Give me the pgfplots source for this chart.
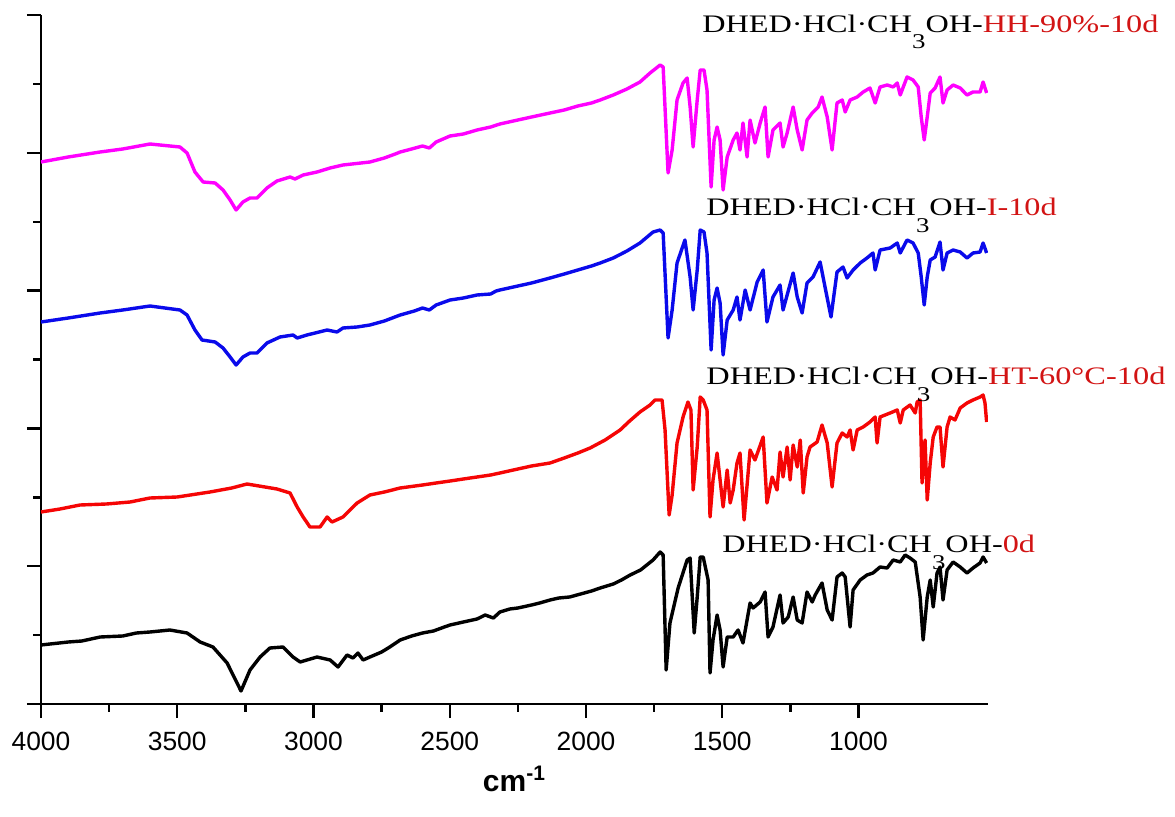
\documentclass[border=0pt]{standalone}
\usepackage{pgfplots}
\pgfplotsset{compat=1.18}
\usepackage{graphicx}
\usepackage{fontspec}
\setmainfont{Liberation Sans}
\newfontfamily\tnr{Liberation Serif}
\definecolor{cmag}{RGB}{255,0,255}
\definecolor{cblue}{RGB}{10,10,235}
\definecolor{cred}{RGB}{245,5,5}
\definecolor{labred}{RGB}{210,20,20}
\newcommand{\sub}{\raisebox{-8.5pt}{\fontsize{10.5}{12}\selectfont 3}}
\begin{document}
\begin{tikzpicture}
\useasboundingbox (-20.5pt,-56pt) rectangle (567pt,352pt);
\begin{axis}[
  at={(0pt,0pt)}, anchor=south west,
  scale only axis, width=473.5pt, height=344.5pt,
  xmin=525, xmax=4000, x dir=reverse,
  ymin=0, ymax=689,
  axis x line*=bottom, axis y line*=left,
  axis line style={line width=1.2pt, black},
  xtick={1000,1500,2000,2500,3000,3500,4000},
  minor x tick num=1,
  ytick={0,137.8,275.6,413.4,551.2,689},
  yticklabels={},
  minor y tick num=1,
  tick align=outside,
  major tick length=7pt, minor tick length=3.75pt,
  tick style={line width=1.2pt, black},
  /pgf/number format/assume math mode=true,
  /pgf/number format/set thousands separator={},
  xticklabel style={font=\fontsize{13.2}{15}\selectfont},
  xticklabel shift=3.5pt,
  line join=round,
]
% 0d (black)
\addplot[black, line width=1.7pt] table {
x y
4000 59
3900 62
3850 63
3783 67
3700 68
3650 71
3600 72
3527 74
3464 71
3416 62
3369 57
3317 41
3266 13
3233 34
3196 47
3160 56
3112 57
3075 47
3049 42
2987 47
2939 44
2910 37
2877 49
2855 46
2837 51
2818 44
2793 47
2750 52
2720 57
2682 64
2640 68
2600 71
2560 73
2520 77
2499 79
2450 82
2400 85
2370 89
2340 86
2316 92
2280 95
2250 96
2200 99
2170 101
2132 104
2100 106
2060 107
2020 110
1980 113
1948 116
1900 120
1870 124
1838 129
1800 134
1754 144
1728 152
1717 149
1706 34
1692 81
1662 116
1629 144
1618 146
1603 71
1592 107
1581 147
1570 147
1552 124
1545 31
1534 64
1519 89
1508 74
1497 37
1482 67
1460 67
1442 74
1424 61
1398 101
1387 96
1361 102
1343 112
1332 67
1314 77
1288 109
1277 81
1258 87
1240 107
1225 84
1207 81
1189 112
1170 102
1159 109
1134 121
1115 94
1097 84
1079 127
1060 131
1049 127
1031 77
1020 114
994 124
969 129
947 131
921 137
895 136
873 144
847 142
829 149
811 146
792 142
774 107
763 64
748 107
737 124
726 97
712 131
701 137
690 104
675 134
653 142
627 137
602 131
580 136
554 141
543 147
530 141
};
% HT-60C-10d (red)
\addplot[cred, line width=1.7pt] table {
x y
4000 192
3930 195
3857 199
3760 200
3673 202
3600 206
3500 207
3380 212
3300 216
3244 220
3134 215
3086 211
3060 197
3038 187
3013 177
2976 177
2950 187
2932 182
2892 187
2840 201
2793 209
2740 212
2682 216
2600 219
2550 221
2499 223
2450 225
2400 227
2350 229
2316 231
2250 235
2200 238
2132 241
2080 246
2030 251
1985 256
1930 264
1875 274
1840 283
1802 292
1765 299
1747 304
1721 304
1710 274
1695 189
1684 209
1666 261
1644 287
1626 302
1615 294
1607 214
1592 257
1581 307
1570 304
1556 294
1545 187
1534 224
1519 251
1508 224
1497 197
1482 234
1471 201
1460 214
1446 241
1435 251
1420 184
1398 254
1380 244
1350 267
1336 201
1317 227
1299 214
1288 252
1277 227
1262 257
1251 224
1240 259
1225 237
1214 264
1203 211
1189 247
1178 257
1152 262
1134 279
1115 261
1097 217
1079 261
1060 271
1042 267
1031 274
1020 254
1005 274
983 277
958 282
939 287
932 261
921 287
884 291
858 294
847 281
836 294
811 299
792 291
785 302
774 304
767 221
756 264
748 204
737 241
726 267
712 277
701 277
690 237
675 277
664 287
646 284
627 296
602 301
580 304
554 307
543 309
536 301
530 282
};
% I-10d (blue)
\addplot[cblue, line width=1.7pt] table {
x y
4000 382
3900 386
3783 391
3700 394
3600 398
3490 394
3464 389
3435 374
3409 364
3361 362
3332 356
3306 347
3284 339
3259 347
3233 351
3207 351
3171 361
3123 367
3075 369
3060 366
3024 369
2950 374
2914 372
2892 376
2840 377
2793 379
2740 383
2682 389
2630 393
2600 396
2575 394
2550 399
2499 404
2450 406
2400 409
2350 410
2330 413
2316 414
2250 418
2200 421
2132 426
2080 430
2030 434
1980 438
1948 441
1900 446
1850 453
1802 461
1754 472
1728 474
1717 471
1699 366
1684 394
1666 441
1637 464
1618 427
1607 394
1592 434
1581 474
1567 472
1556 451
1541 354
1530 404
1519 416
1508 401
1497 349
1482 384
1460 394
1446 407
1435 384
1416 414
1398 394
1372 422
1350 434
1336 382
1314 407
1288 419
1277 394
1240 431
1225 407
1207 391
1189 421
1167 427
1141 442
1123 417
1101 387
1079 432
1057 437
1042 426
1020 434
994 441
969 446
947 451
939 434
921 454
884 456
858 461
847 451
822 464
800 461
781 451
770 427
759 399
748 427
737 444
719 447
701 462
690 434
675 451
653 454
627 452
602 446
580 451
554 452
543 461
530 451
};
% HH-90%-10d (magenta)
\addplot[cmag, line width=1.7pt] table {
x y
4000 542
3900 547
3783 552
3700 555
3600 560
3490 557
3464 551
3435 532
3405 522
3361 521
3332 514
3306 504
3284 494
3259 502
3233 506
3207 506
3171 516
3134 523
3086 527
3068 525
3038 529
2987 532
2939 536
2892 539
2793 542
2740 546
2700 550
2682 552
2640 555
2600 558
2575 556
2550 562
2499 568
2450 570
2400 574
2350 577
2316 580
2250 584
2200 587
2132 591
2080 594
2030 598
1980 601
1948 604
1900 609
1850 615
1802 622
1765 631
1728 639
1717 637
1699 531
1684 554
1666 604
1644 621
1629 626
1618 597
1607 557
1592 604
1581 634
1567 634
1556 614
1541 517
1530 564
1519 577
1508 564
1497 514
1482 547
1460 564
1446 571
1435 554
1424 581
1409 547
1398 584
1380 561
1361 581
1343 597
1332 547
1314 574
1288 581
1277 557
1262 571
1240 597
1225 574
1207 554
1189 584
1170 591
1148 597
1134 607
1115 587
1097 554
1079 601
1060 604
1049 592
1031 604
1005 607
983 612
958 616
939 601
921 617
895 619
873 617
858 621
847 609
822 627
800 624
781 617
770 587
759 564
748 587
737 611
719 616
701 627
690 601
675 614
653 619
627 616
602 609
580 612
554 612
543 622
530 611
};
\end{axis}
\node[anchor=base west, inner sep=0pt] at (330.5pt,336pt)
  {\resizebox{228pt}{\height}{\tnr\fontsize{12.6}{15}\selectfont DHED·HCl·CH\sub OH-\textcolor{labred}{HH-90\%-10d}}};
\node[anchor=base west, inner sep=0pt] at (332.5pt,244pt)
  {\scalebox{1.28}[1]{\tnr\fontsize{12.6}{15}\selectfont DHED·HCl·CH\sub OH-\textcolor{labred}{I-10d}}};
\node[anchor=base west, inner sep=0pt] at (332.5pt,160pt)
  {\resizebox{229.5pt}{\height}{\tnr\fontsize{12.6}{15}\selectfont DHED·HCl·CH\sub OH-\textcolor{labred}{HT-60°C-10d}}};
\node[anchor=base west, inner sep=0pt] at (340.5pt,76pt)
  {\scalebox{1.28}[1]{\tnr\fontsize{12.6}{15}\selectfont DHED·HCl·CH\sub OH-\textcolor{labred}{0d}}};
\node[anchor=base, inner sep=0pt] at (236.75pt,-43.5pt)
  {\fontsize{15}{18}\selectfont\bfseries cm\textsuperscript{-1}};
\end{tikzpicture}
\end{document}
